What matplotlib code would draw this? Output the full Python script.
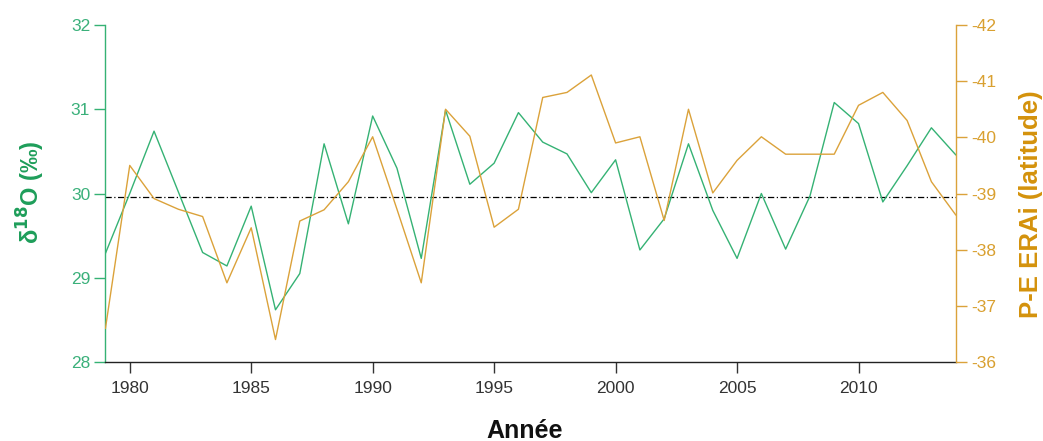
import matplotlib
matplotlib.use("Agg")
import matplotlib.pyplot as plt
from matplotlib import font_manager

years = list(range(1979, 2015))
d18o = [29.29, 30.00, 30.74, 30.02, 29.30, 29.14, 29.85, 28.62, 29.05, 30.59,
        29.64, 30.92, 30.30, 29.23, 30.99, 30.11, 30.36, 30.96, 30.61, 30.47,
        30.01, 30.40, 29.33, 29.70, 30.59, 29.80, 29.23, 30.00, 29.34, 29.97,
        31.08, 30.83, 29.90, 30.33, 30.78, 30.46]
pe_erai = [-36.60, -39.50, -38.91, -38.72, -38.59, -37.41, -38.39, -36.40, -38.51, -38.71,
           -39.21, -40.01, -38.72, -37.41, -40.50, -40.02, -38.40, -38.72, -40.71, -40.80,
           -41.11, -39.90, -40.01, -38.52, -40.50, -39.01, -39.59, -40.01, -39.70, -39.70,
           -39.70, -40.57, -40.80, -40.30, -39.21, -38.62]
ref_level = 29.96
xticks = [1980, 1985, 1990, 1995, 2000, 2005, 2010]
left_ticks = [28, 29, 30, 31, 32]
right_ticks = [-36, -37, -38, -39, -40, -41, -42]

avail = {f.name for f in font_manager.fontManager.ttflist}
narrow = 'Liberation Sans Narrow' if 'Liberation Sans Narrow' in avail else 'Liberation Sans'
plt.rcParams['font.family'] = [narrow, 'DejaVu Sans']

GREEN_LINE = '#35B274'
GREEN_TXT = '#3AB07A'
GREEN_LAB = '#1E9E5A'
ORANGE_LINE = '#DBA23A'
ORANGE_TXT = '#D9A030'
ORANGE_LAB = '#D4920C'

fig = plt.figure(figsize=(10.43, 4.41), dpi=100)
ax = fig.add_axes([0.1011, 0.1791, 0.9163 - 0.1011, 0.9433 - 0.1791])
ax2 = ax.twinx()

ax.plot(years, d18o, color=GREEN_LINE, lw=1.0, zorder=3)
ax.plot([years[0], years[-1]], [ref_level, ref_level], color='black', lw=0.9,
        linestyle=(0, (5, 2, 1, 2)), zorder=2)
ax2.plot(years, pe_erai, color=ORANGE_LINE, lw=1.0, zorder=3)

ax.set_xlim(1979, 2014)
ax.set_ylim(28, 32)
ax2.set_ylim(-36, -42)

ax.set_xticks(xticks)
ax.set_xticklabels([str(x) for x in xticks])
ax.set_yticks(left_ticks)
ax.set_yticklabels([str(v) for v in left_ticks])
ax2.set_yticks(right_ticks)
ax2.set_yticklabels([str(v) for v in right_ticks])

for a in (ax, ax2):
    a.spines['top'].set_visible(False)
ax.spines['right'].set_visible(False)
ax.spines['left'].set_color(GREEN_LINE)
ax.spines['bottom'].set_color('#222222')
ax2.spines['left'].set_visible(False)
ax2.spines['bottom'].set_visible(False)
ax2.spines['right'].set_color(ORANGE_LINE)
for s in ('left', 'bottom'):
    ax.spines[s].set_linewidth(1.0)
ax2.spines['right'].set_linewidth(1.0)

ax.tick_params(axis='x', length=8, width=1.0, color='#333333', labelcolor='#333333',
               labelsize=12.5, pad=6)
ax.tick_params(axis='y', length=8, width=1.0, color=GREEN_LINE, labelcolor=GREEN_TXT,
               labelsize=12.5, pad=3)
ax2.tick_params(axis='y', length=8, width=1.0, color=ORANGE_LINE, labelcolor=ORANGE_TXT,
                labelsize=12.5, pad=3)

fig.text(31 / 1043, 1 - 192 / 441, r'δ$^{\mathbf{18}}$O (‰)', rotation=90,
         ha='center', va='center', color=GREEN_LAB, fontsize=17, fontweight='bold',
         family=['Liberation Sans', 'DejaVu Sans'])
fig.text(1031 / 1043, 1 - 204 / 441, 'P-E ERAi (latitude)', rotation=90,
         ha='center', va='center', color=ORANGE_LAB, fontsize=18.5, fontweight='bold',
         family=['Liberation Sans', 'DejaVu Sans'])
fig.text(525 / 1043, 1 - 431 / 441, 'Année', ha='center', va='center',
         color='#111111', fontsize=18, fontweight='bold')

fig.savefig('out.png', dpi=100)
